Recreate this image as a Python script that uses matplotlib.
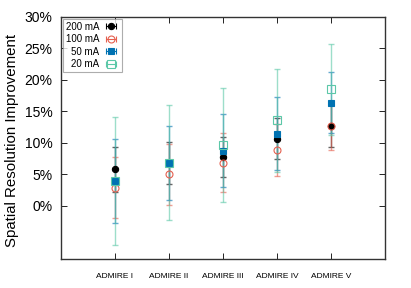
import numpy as np
import matplotlib.pyplot as plt
from matplotlib.ticker import FuncFormatter

plt.rcParams['font.family'] = ['Liberation Sans', 'DejaVu Sans']

categories = ['ADMIRE I', 'ADMIRE II', 'ADMIRE III', 'ADMIRE IV', 'ADMIRE V']
labels = ['200 mA', '100 mA', '50 mA', '20 mA']

# mean improvement (%) and half-width of error bars (%)
mean_200 = [5.8, 6.8, 7.8, 10.7, 12.7]
err_200 = [3.5, 3.3, 3.2, 3.2, 3.3]
mean_100 = [2.9, 5.0, 6.9, 8.9, 12.7]
err_100 = [4.8, 4.8, 4.7, 4.1, 3.8]
mean_50 = [4.0, 6.8, 8.8, 11.5, 16.4]
err_50 = [6.7, 5.9, 5.8, 5.8, 4.8]
mean_20 = [4.0, 6.9, 9.7, 13.6, 18.5]
err_20 = [10.2, 9.2, 9.1, 8.2, 7.2]

x = np.arange(1, len(categories) + 1)

fig = plt.figure(figsize=(4.11, 2.88), dpi=100)
ax = fig.add_axes([0.148, 0.101, 0.789, 0.840])

series = [
    (mean_200, err_200, '#000000', 'o', '#000000', 4.5),
    (mean_100, err_100, '#e5604f', 'o', 'none', 5),
    (mean_50, err_50, '#0072b2', 's', '#0072b2', 5),
    (mean_20, err_20, '#5cc8a8', 's', 'none', 5.5),
]

handles = []
for (m, e, c, mk, fc, ms), lab in zip(series, labels):
    ax.errorbar(x, m, yerr=e, fmt='none', ecolor=c, elinewidth=1,
                capsize=2, capthick=1, alpha=0.6, zorder=2)
    ax.plot(x, m, linestyle='none', marker=mk, markersize=ms,
            markerfacecolor=fc, markeredgecolor=c, markeredgewidth=0.8, zorder=3)
    h = ax.errorbar([np.nan], [np.nan], xerr=[0.1], fmt=mk, color=c,
                    markersize=ms, markerfacecolor=fc, markeredgecolor=c,
                    markeredgewidth=0.8, elinewidth=0.8, capsize=2)
    handles.append(h)

ax.set_xlim(0, 6)
ax.set_ylim(-8.4, 30)
ax.set_xticks(x)
ax.set_xticklabels(categories, fontsize=6)
ax.set_yticks([0, 5, 10, 15, 20, 25, 30])
ax.yaxis.set_major_formatter(FuncFormatter(lambda v, p: '%d%%' % v))
ax.tick_params(axis='y', labelsize=10, direction='in', right=True, length=4, width=0.6, pad=6)
ax.tick_params(axis='x', direction='in', top=True, length=4, width=0.6, pad=10)
for s in ax.spines.values():
    s.set_linewidth(1)
    s.set_color('#333333')

ax.set_ylabel('Spatial Resolution Improvement', fontsize=10.8)
ax.yaxis.set_label_coords(-0.13, 0.49)

leg = ax.legend(handles, labels, loc='upper left', markerfirst=False, fontsize=7,
                frameon=True, fancybox=False, edgecolor='#999999', handlelength=1.5,
                handletextpad=0.5, borderpad=0.3, labelspacing=0.25,
                borderaxespad=0.2)
leg.get_frame().set_linewidth(0.8)
for t in leg.get_texts():
    t.set_ha('right')
leg._legend_box.align = 'right'

fig.savefig('out.png', dpi=100)
